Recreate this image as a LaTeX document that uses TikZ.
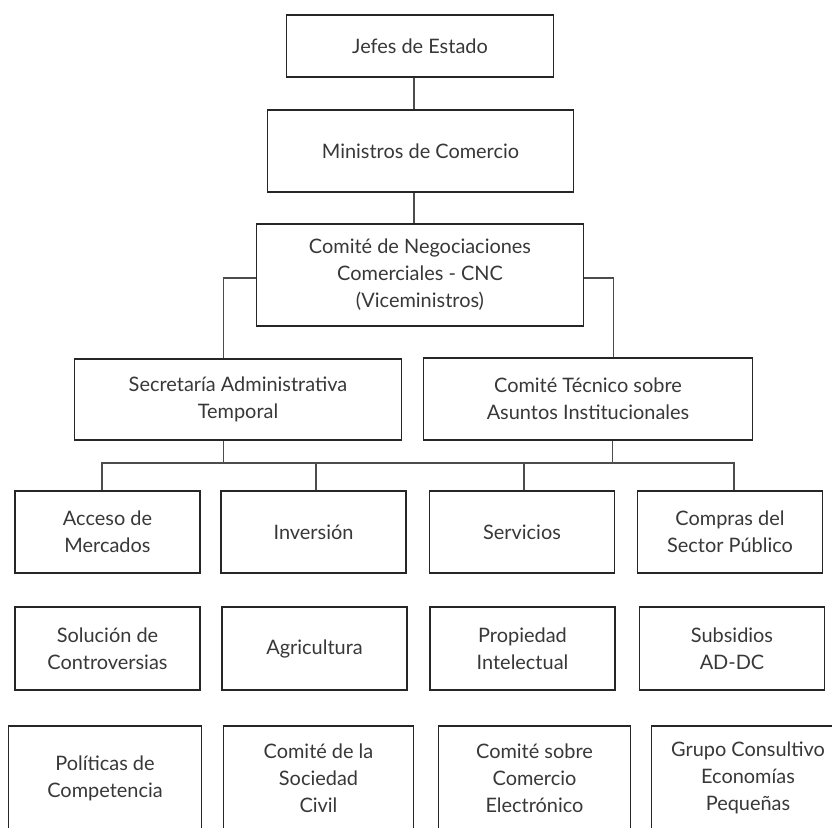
\documentclass[tikz,border=0pt]{standalone}
\usepackage{fontspec}
\setmainfont{Lato}
\begin{document}
\begin{tikzpicture}[x=1bp,y=-1bp,
  box/.style={draw=black!85, line width=1.6bp, fill=white, align=center, inner sep=0pt,
    font=\fontsize{20}{27}\selectfont, text=black!78},
  r1/.style={box, minimum width=186, minimum height=82},
  r3/.style={box, minimum width=193, minimum height=104},
  link/.style={draw=black!70, line width=1.1bp}]
\useasboundingbox (0,0) rectangle (832,828);
\clip (0,0) rectangle (832,828);
% top chain
\node[box, minimum width=268, minimum height=62] (jefes) at (420,46) {Jefes de Estado};
\node[box, minimum width=307, minimum height=82] (min) at (420.5,151) {Ministros de Comercio};
\node[box, minimum width=328, minimum height=102] (cnc) at (420,275) {Comité de Negociaciones\\Comerciales - CNC\\(Viceministros)};
\node[box, minimum width=328, minimum height=81] (sec) at (238,399.5) {Secretaría Administrativa\\Temporal};
\node[box, minimum width=330, minimum height=82] (ct) at (588,399) {Comité Técnico sobre\\Asuntos Institucionales};
% row 1
\node[r1] (acc) at (107.5,532) {Acceso de\\Mercados};
\node[r1] (inv) at (313.5,532) {Inversión};
\node[r1] (ser) at (522,532) {Servicios};
\node[r1] (com) at (730,532) {Compras del\\Sector Público};
% row 2
\node[r1, minimum height=83] (sol) at (107.5,648.5) {Solución de\\Controversias};
\node[r1, minimum height=83] (agr) at (314.5,648.5) {Agricultura};
\node[r1, minimum height=83] (pro) at (522.5,648.5) {Propiedad\\Intelectual};
\node[r1, minimum height=83] (sub) at (732,648.5) {Subsidios\\AD-DC};
% row 3
\node[r3, minimum width=194] (pol) at (105,778) {Políticas de\\Competencia};
\node[r3, minimum width=191] (soc) at (318.5,778) {Comité de la\\Sociedad\\Civil};
\node[r3] (ele) at (534.5,778) {Comité sobre\\Comercio\\Electrónico};
\node[r3, minimum width=194] (gru) at (748,778) {Grupo Consultivo\\Economías\\Pequeñas};
% connectors
\coordinate (bus) at (0,463);
\draw[link] ([xshift=-6]jefes.south) -- ([xshift=-6]jefes.south |- min.north);
\draw[link] ([xshift=-6.5]min.south) -- ([xshift=-6.5]min.south |- cnc.north);
\draw[link] ([yshift=-3]cnc.west) -| ([xshift=-15]sec.north);
\draw[link] ([yshift=-3]cnc.east) -| ([xshift=26]ct.north);
\draw[link] ([xshift=-15]sec.south) -- ([xshift=-15]sec.south |- bus);
\draw[link] ([xshift=25]ct.south) -- ([xshift=25]ct.south |- bus);
\draw[link] ([xshift=-5.5]acc.north) |- ([xshift=4]com.north |- bus) -- ([xshift=4]com.north);
\draw[link] ([xshift=2.5]inv.north) -- ([xshift=2.5]inv.north |- bus);
\draw[link] ([xshift=2]ser.north) -- ([xshift=2]ser.north |- bus);
\end{tikzpicture}
\end{document}
